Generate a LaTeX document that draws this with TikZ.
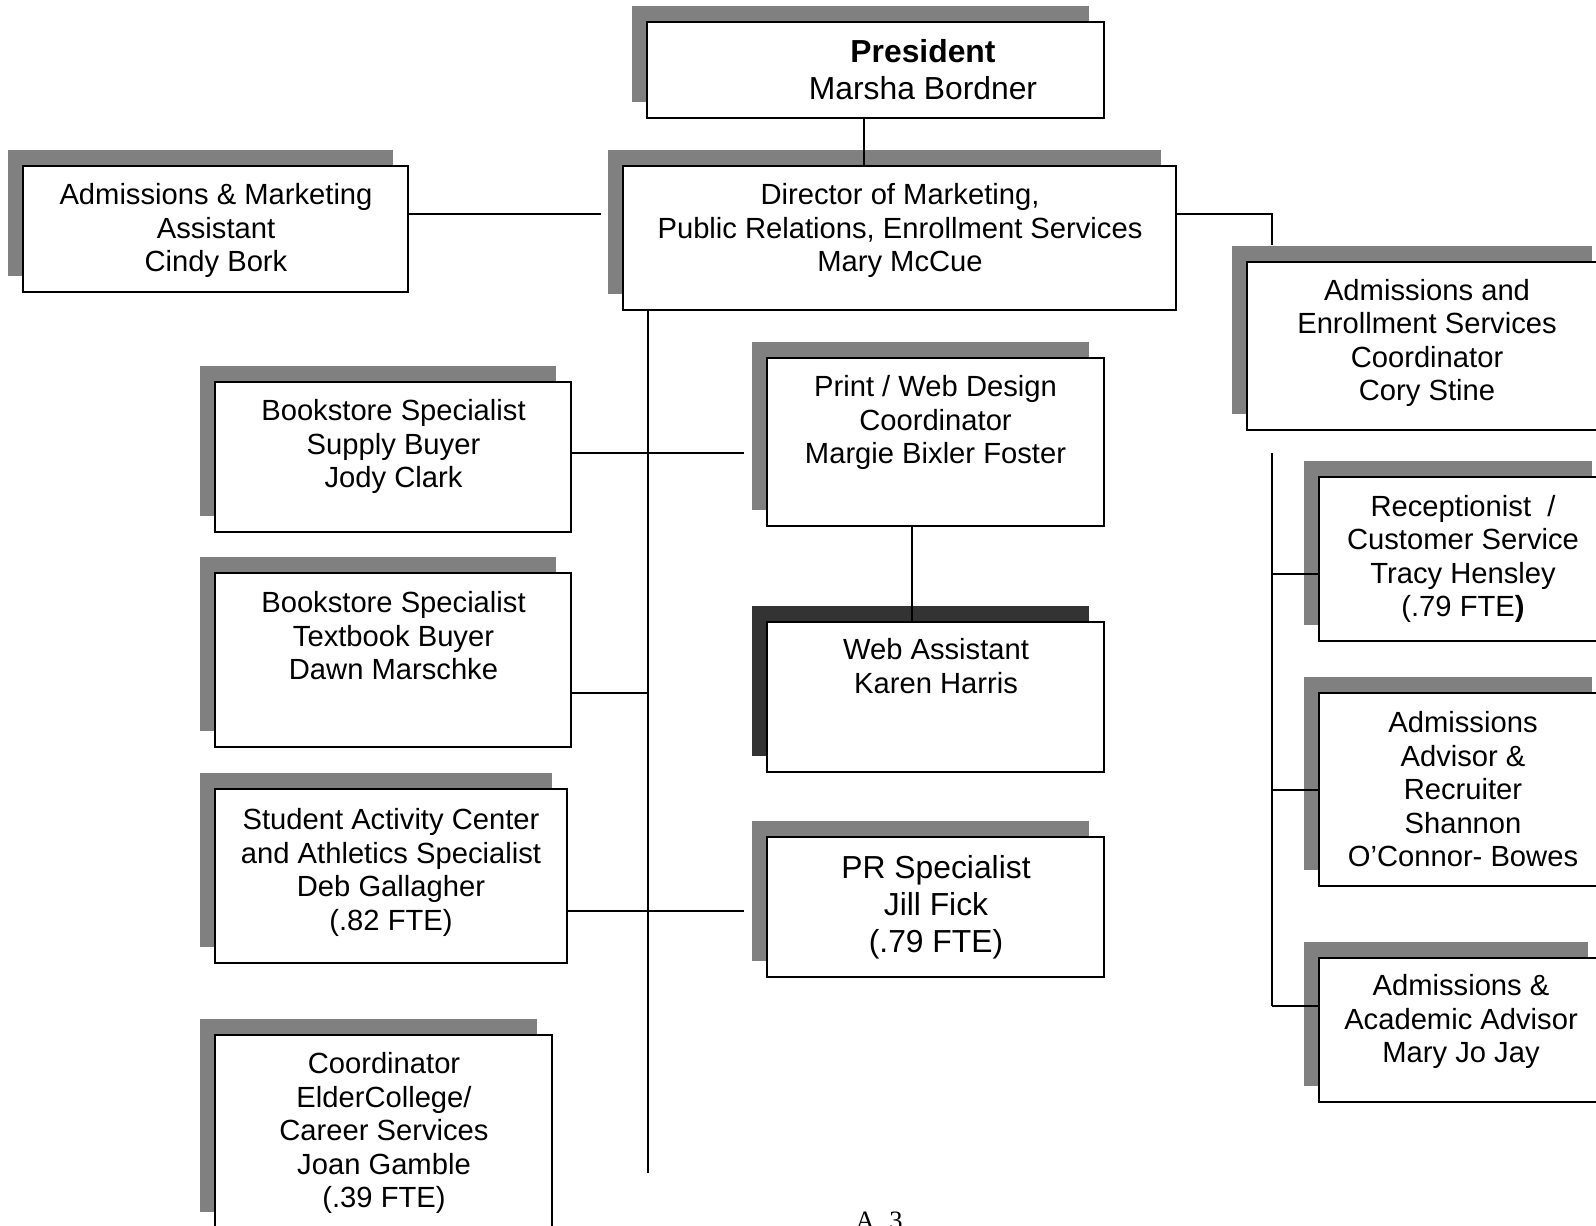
\documentclass[tikz,border=0pt]{standalone}
\usepackage{fontspec}
\setmainfont{Liberation Sans}
\newfontfamily\serifA{Liberation Serif}
\usetikzlibrary{fit,shadows,calc}
\definecolor{shgray}{HTML}{808080}
\definecolor{shdark}{HTML}{333333}
\begin{document}
\begin{tikzpicture}[x=0.377pt, y=-0.377pt,
  plainbox/.style={draw=black, line width=0.6pt, fill=white, inner sep=0pt},
  box/.style={plainbox, general shadow={fill=shgray, shadow xshift=-5.655pt, shadow yshift=6.032pt}},
  darkbox/.style={plainbox, general shadow={fill=shdark, shadow xshift=-5.655pt, shadow yshift=6.032pt}},
  t11/.style={font=\fontsize{11}{12.65}\selectfont, align=center, inner sep=0pt, anchor=north, yshift=8.855pt},
  t12/.style={font=\fontsize{12}{13.95}\selectfont, align=center, inner sep=0pt, anchor=north, yshift=9.765pt},
  conn/.style={draw=black, line width=0.55pt}]
\useasboundingbox (0,0) rectangle (1596,1225);
\clip (0,0) rectangle (1596,1225);
\fill[white] (0,0) rectangle (1596,1225);

% boxes
\node[box, fit={(647,22) (1104,118)}] (pres) {};
\node[box, fit={(623,166) (1176,310)}] (dir) {};
\node[box, fit={(23,166) (408,292)}] (cindy) {};
\node[box, fit={(1247,262) (1607,430)}] (cory) {};
\node[box, fit={(1319,477) (1607,641)}] (tracy) {};
\node[box, fit={(1319,693) (1607,886)}] (shannon) {};
\node[box, fit={(1319,958) (1603,1102)}] (maryjo) {};
\node[box, fit={(767,358) (1104,526)}] (print) {};
\node[darkbox, fit={(767,622) (1104,772)}] (web) {};
\node[box, fit={(767,837) (1104,977)}] (pr) {};
\node[box, fit={(215,382) (571,532)}] (supply) {};
\node[box, fit={(215,573) (571,747)}] (textbook) {};
\node[box, fit={(215,789) (567,963)}] (student) {};
\node[box, fit={(215,1035) (552,1228)}] (elder) {};

% texts
\node[t12] (pres-t) at (923,62) {\strut\textbf{President}\\Marsha Bordner};
\node[t11] (dir-t) at (900,204) {\strut Director of Marketing,\\Public Relations, Enrollment Services\\Mary McCue};
\node[t11] (cindy-t) at (216,204) {\strut Admissions \& Marketing\\Assistant\\Cindy Bork};
\node[t11] (cory-t) at (1427,299.5) {\strut Admissions and\\Enrollment Services\\Coordinator\\Cory Stine};
\node[t11] (tracy-t) at (1463,515.5) {\strut Receptionist\ \ /\\Customer Service\\Tracy Hensley\\(.79 FTE\textbf{)}};
\node[t11] (shannon-t) at (1463,732) {\strut Admissions\\Advisor \&\\Recruiter\\Shannon\\O’Connor- Bowes};
\node[t11] (maryjo-t) at (1461,995) {\strut Admissions \&\\Academic Advisor\\Mary Jo Jay};
\node[t11] (print-t) at (935.5,396) {\strut Print / Web Design\\Coordinator\\Margie Bixler Foster};
\node[t11] (web-t) at (936,659) {\strut Web Assistant\\Karen Harris};
\node[t12] (pr-t) at (936,878) {\strut PR Specialist\\Jill Fick\\(.79 FTE)};
\node[t11] (supply-t) at (393.5,420) {\strut Bookstore Specialist\\Supply Buyer\\Jody Clark};
\node[t11] (textbook-t) at (393.5,612) {\strut Bookstore Specialist\\Textbook Buyer\\Dawn Marschke};
\node[t11] (student-t) at (391,829) {\strut Student Activity Center\\and Athletics Specialist\\Deb Gallagher\\(.82 FTE)};
\node[t11] (elder-t) at (384,1073) {\strut Coordinator\\ElderCollege/\\Career Services\\Joan Gamble\\(.39 FTE)};
\node[font=\serifA\fontsize{10}{12}\selectfont, anchor=base west, inner sep=0pt] (pg) at (855,1229) {A\hspace{5.5pt}3};

% junction coordinates
\coordinate (pd) at (864,140);
\coordinate (cj) at (601,214);
\coordinate (cj2) at (1272,245);
\coordinate (spineEnd) at (648,1173);
\coordinate (sp) at (744,453);
\coordinate (tb) at (648,693);
\coordinate (st) at (744,911);
\coordinate (pw) at (912,570);
\coordinate (rs) at (1272,453);
\coordinate (tr) at (1272,574);
\coordinate (sh) at (1272,790);
\coordinate (rsEnd) at (1272,1006);

% connectors
\draw[conn] (pres.south -| pd) -- (dir.north -| pd);
\draw[conn] (cindy.east |- cj) -- (cj);
\draw[conn] (dir.east |- cj) -| (cj2);
\draw[conn] (dir.south -| spineEnd) -- (spineEnd);
\draw[conn] (supply.east |- sp) -- (sp);
\draw[conn] (textbook.east |- tb) -- (tb);
\draw[conn] (student.east |- st) -- (st);
\draw[conn] (print.south -| pw) -- (web.north -| pw);
\draw[conn] (rs) -- (rsEnd);
\draw[conn] (tr) -- (tracy.west |- tr);
\draw[conn] (sh) -- (shannon.west |- sh);
\draw[conn] (rsEnd) -- (maryjo.west |- rsEnd);
\end{tikzpicture}
\end{document}
